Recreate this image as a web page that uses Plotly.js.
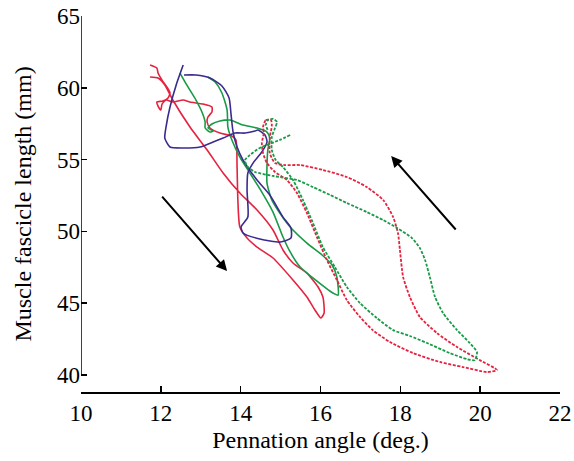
<!DOCTYPE html>
<html>
<head>
<meta charset="utf-8">
<script src="https://cdn.plot.ly/plotly-3.0.1.min.js"></script>
<style>html,body{margin:0;padding:0;background:#fff;}#chart{width:574px;height:461px;}</style>
</head>
<body>
<div id="chart"></div>
<script>
// Red solid loop
const redSolidX = [11.73,11.90,11.93,12.03,12.15,12.23,12.18,12.05,11.90,11.93,12.00,12.03,12.13,12.30,12.56,12.73,13.06,13.28,13.28,13.18,13.16,13.23,13.48,13.78,13.88,13.91,13.93,13.98,14.16,14.41,14.81,15.31,15.66,15.86,16.01,16.09,16.06,15.94,15.66,15.31,15.06,14.81,14.41,13.98,13.56,13.16,12.73,12.30,12.10,11.93,11.73];
const redSolidY = [61.59,61.38,61.03,60.54,60.06,59.64,59.29,59.08,59.01,58.73,58.45,58.87,59.15,59.01,59.15,59.01,58.87,58.66,58.32,57.97,57.62,57.20,56.85,56.64,56.37,54.48,52.19,50.31,49.54,48.91,48.15,46.62,45.43,44.53,43.97,44.32,45.43,46.13,47.10,47.80,48.71,50.10,51.49,52.67,54.07,55.67,57.27,59.15,60.20,60.68,60.75];

// Blue (purple) solid loop
const blueX = [12.56,12.40,12.23,12.13,12.10,12.23,12.56,12.98,13.31,13.56,13.86,14.11,14.36,14.43,14.61,14.66,14.53,14.31,14.18,14.16,14.18,14.01,14.06,14.48,14.99,15.26,15.26,15.06,14.73,14.41,14.06,13.91,13.81,13.76,13.71,13.53,13.23,12.88,12.58];
const blueY = [61.59,60.33,58.66,57.27,56.50,55.88,55.81,55.88,56.23,56.50,56.85,56.85,56.99,57.06,56.71,56.23,55.53,54.76,54.07,52.88,51.00,50.31,49.89,49.47,49.26,49.54,50.24,51.00,52.54,53.58,54.97,55.88,56.92,58.11,59.29,60.13,60.68,60.89,60.89];

// Green solid loop
const greenSolidX = [12.48,12.65,12.88,13.03,13.11,13.11,13.23,13.31,13.18,13.28,13.48,13.73,14.06,14.41,14.66,14.73,14.68,14.66,14.66,14.78,14.98,15.24,15.66,16.04,16.29,16.41,16.44,16.31,15.81,15.49,15.24,15.06,14.81,14.53,14.23,13.98,13.78,13.68,13.66,13.53,13.36,13.18];
const greenSolidY = [61.03,60.20,59.15,58.32,57.62,57.20,56.92,56.99,57.20,57.48,57.69,57.76,57.41,57.20,56.92,56.50,55.67,54.62,53.37,52.19,51.28,50.31,49.19,48.36,47.66,46.82,45.57,45.71,46.76,47.52,48.57,49.61,51.35,52.74,54.07,55.18,56.37,57.27,58.45,59.64,60.40,60.75];

// Red dotted loop
const redDotX = [14.56,14.63,14.76,14.78,14.73,14.73,14.86,15.11,15.49,16.06,16.66,17.16,17.57,17.82,17.94,17.99,18.07,18.24,18.49,18.92,19.42,19.99,20.42,20.17,19.57,18.99,18.32,17.74,17.31,16.99,16.66,16.41,16.16,15.91,15.66,15.41,15.16,14.86,14.66,14.56,14.53,14.58,14.56];
const redDotY = [57.27,57.76,57.76,57.34,56.57,55.46,54.76,54.62,54.62,54.28,53.79,53.09,52.19,51.00,49.89,48.71,46.82,45.43,44.04,42.92,41.95,41.04,40.35,40.21,40.56,40.91,41.53,42.30,43.13,44.04,45.22,46.62,48.01,49.61,51.28,52.67,53.58,54.14,54.76,55.46,56.16,56.85,57.27];

// Green dotted loop
const greenDotX = [15.24,14.98,14.48,14.23,14.11,14.16,14.36,14.81,15.41,15.81,16.24,16.66,17.16,17.57,17.92,18.29,18.49,18.62,18.74,18.87,19.07,19.42,19.74,19.92,19.87,19.67,19.24,18.67,18.24,17.82,17.41,16.99,16.66,16.36,16.06,15.81,15.56,15.31,15.06,14.88,14.78,14.78,14.86,14.91,14.81,14.68,14.63,14.68];
const greenDotY = [56.71,56.37,55.81,55.32,54.97,54.55,54.14,53.86,53.58,53.09,52.54,51.98,51.35,50.79,50.24,49.54,48.84,48.01,46.82,45.43,44.32,43.13,42.23,41.60,41.04,41.11,41.53,42.23,42.72,43.13,43.97,45.01,46.13,47.52,48.91,50.59,52.19,53.58,54.48,54.97,55.67,56.57,57.20,57.62,57.83,57.76,57.41,57.06];

// Direction arrows: [tailX, tailY, headX, headY]
const arrowDown = [12.00, 52.53, 13.66, 47.24];
const arrowUp = [19.42, 50.03, 17.77, 55.25];

const xTicks = [10,12,14,16,18,20,22];
const yTicks = [40,45,50,55,60,65];

const RED = '#e5223f', BLUE = '#3b2a8f', GREEN = '#189a47';
const FONT = 'Liberation Serif, Times New Roman, serif';

function tr(x, y, color, dash) {
  return {x: x, y: y, type: 'scatter', mode: 'lines', hoverinfo: 'skip',
    line: {color: color, width: dash ? 1.8 : 1.6, dash: dash || 'solid', shape: 'spline', smoothing: 0.6}};
}

const data = [
  tr(redSolidX, redSolidY, RED),
  tr(greenSolidX, greenSolidY, GREEN),
  tr(blueX, blueY, BLUE),
  tr(redDotX, redDotY, RED, '3px,1.5px'),
  tr(greenDotX, greenDotY, GREEN, '3px,1.5px')
];

function arrow(a) {
  return {x: a[2], y: a[3], ax: a[0], ay: a[1], xref: 'x', yref: 'y', axref: 'x', ayref: 'y',
    text: '', showarrow: true, arrowhead: 2, arrowsize: 1.1, arrowwidth: 2, arrowcolor: '#000'};
}

const layout = {
  width: 574, height: 461,
  margin: {l: 81, r: 14, t: 16, b: 69},
  paper_bgcolor: '#fff', plot_bgcolor: '#fff',
  showlegend: false,
  font: {family: FONT, size: 23, color: '#000'},
  xaxis: {
    range: [10, 22], tickvals: xTicks, ticktext: xTicks.map(String),
    showgrid: false, zeroline: false, showline: true, linecolor: '#000', linewidth: 1.5,
    ticks: 'inside', ticklen: 6, tickwidth: 1.5, tickcolor: '#000',
    tickfont: {family: FONT, size: 23, color: '#000'},
    title: {text: 'Pennation angle (deg.)', font: {family: FONT, size: 24, color: '#000'}, standoff: 6},
    automargin: false
  },
  yaxis: {
    range: [38.82, 65], tickvals: yTicks, ticktext: yTicks.map(String),
    showgrid: false, zeroline: false, showline: false,
    ticks: 'inside', ticklen: 6, tickwidth: 1.5, tickcolor: '#000',
    tickfont: {family: FONT, size: 23, color: '#000'},
    title: {text: 'Muscle fascicle length (mm)', font: {family: FONT, size: 24, color: '#000'}, standoff: 18},
    automargin: false
  },
  shapes: [{type: 'line', xref: 'x', yref: 'y', x0: 10, x1: 10, y0: 40, y1: 65,
    line: {color: '#000', width: 1.5}}],
  annotations: [arrow(arrowDown), arrow(arrowUp)]
};

Plotly.newPlot('chart', data, layout, {displayModeBar: false, staticPlot: true});
</script>
</body>
</html>
